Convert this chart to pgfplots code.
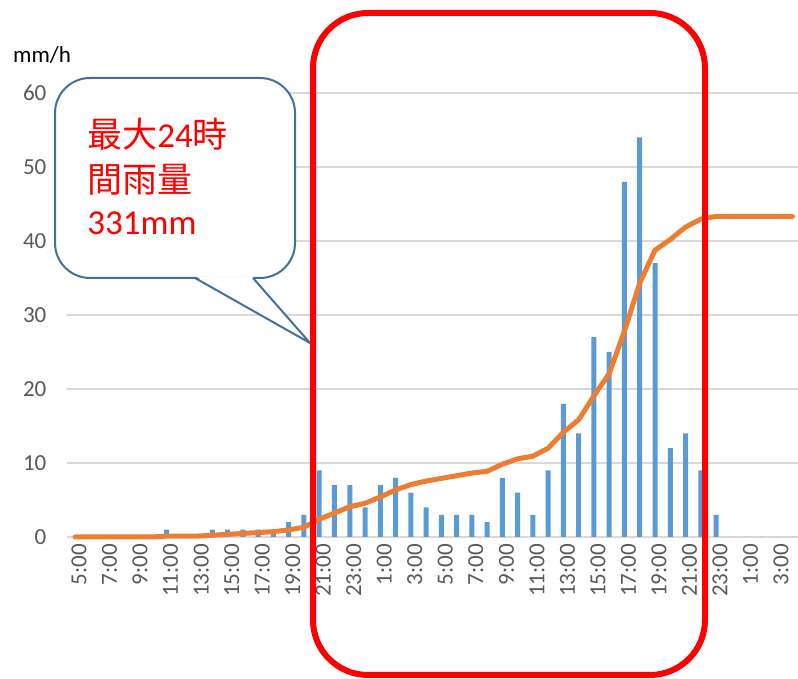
\documentclass[border=0pt]{standalone}
\usepackage{pgfplots}
\pgfplotsset{compat=1.18}
\usepackage{pgfplotstable}
\usepackage{fontspec}
\setmainfont{Carlito}
\newfontfamily\cjk{Noto Sans CJK JP}
\definecolor{barblue}{HTML}{5B9BD5}
\definecolor{lineorange}{HTML}{ED7D31}
\definecolor{gridgray}{HTML}{D9D9D9}
\definecolor{labelgray}{HTML}{595959}
\definecolor{calloutblue}{HTML}{41719C}
\definecolor{boxred}{HTML}{FF0000}

% i  rain (mm/h)  cumulative (mm)
\pgfplotstableread{
i rain cum
0 0 0
1 0 0
2 0 0
3 0 0
4 0 0
5 0 0
6 1 1
7 0 1
8 0 1
9 1 2
10 1 3
11 1 4
12 1 5
13 1 6
14 2 8
15 3 11
16 9 20
17 7 27
18 7 34
19 4 38
20 7 45
21 8 53
22 6 59
23 4 63
24 3 66
25 3 69
26 3 72
27 2 74
28 8 82
29 6 88
30 3 91
31 9 100
32 18 118
33 14 132
34 27 159
35 25 184
36 48 232
37 54 286
38 37 323
39 12 335
40 14 349
41 9 358
42 3 361
43 0 361
44 0 361
45 0 361
46 0 361
47 0 361
}\raindata

\begin{document}
\begin{tikzpicture}
\useasboundingbox (0,0) rectangle (399pt,339.5pt);
\begin{axis}[
  at={(33.7pt,71pt)}, anchor=south west,
  scale only axis, width=366.3pt, height=222pt,
  xmin=-0.5, xmax=47.5, ymin=0, ymax=60,
  ytick={0,10,...,60},
  xtick={0,2,...,46},
  xticklabels={5:00,7:00,9:00,11:00,13:00,15:00,17:00,19:00,21:00,23:00,1:00,3:00,5:00,7:00,9:00,11:00,13:00,15:00,17:00,19:00,21:00,23:00,1:00,3:00},
  major tick length=0pt,
  axis line style={draw=none},
  ymajorgrids, grid style={gridgray, line width=0.65pt},
  tick label style={font=\fontsize{11.5pt}{12pt}\selectfont, text=labelgray},
  yticklabel style={anchor=east, xshift=-7pt},
  xticklabel style={rotate=90, anchor=east, yshift=-2pt},
  /pgf/number format/assume math mode=true,
  clip=false,
]
\addplot[ybar, bar width=2.5pt, fill=barblue, draw=none] table[x=i, y=rain] {\raindata};
\end{axis}
\begin{axis}[
  at={(33.7pt,71pt)}, anchor=south west,
  scale only axis, width=366.3pt, height=222pt,
  xmin=-0.5, xmax=47.5, ymin=0, ymax=500,
  hide x axis, hide y axis, clip=false,
]
\addplot[lineorange, line width=2.5pt, line join=round, line cap=round, mark=none] table[x=i, y=cum] {\raindata};
\end{axis}
% unit label
\node[anchor=base, font=\fontsize{11.5pt}{12pt}\selectfont] at (21pt,308pt) {mm/h};
% callout
\draw[calloutblue, line width=1pt, fill=white, rounded corners=17.5pt] (27.5pt,200.5pt) rectangle (147.5pt,300.5pt);
\fill[white] (97.9pt,201.3pt) -- (126.1pt,201.3pt) -- (155pt,168pt) -- cycle;
\draw[calloutblue, line width=1pt, line join=miter] (97.5pt,200.5pt) -- (155pt,168pt) -- (126.5pt,200.5pt);
\node[anchor=base west, inner sep=0pt, text=boxred, font=\fontsize{17.5pt}{20pt}\selectfont] at (43.5pt,265.5pt) {{\cjk 最大}24{\cjk 時}};
\node[anchor=base west, inner sep=0pt, text=boxred, font=\fontsize{17.5pt}{20pt}\selectfont] at (43.5pt,243pt) {{\cjk 間雨量}};
\node[anchor=base west, inner sep=0pt, text=boxred, font=\fontsize{17.5pt}{20pt}\selectfont] at (43.5pt,222pt) {331mm};
% red frame
\draw[boxred, line width=3pt, rounded corners=27.5pt] (156.5pt,2pt) rectangle (352.5pt,333pt);
\end{tikzpicture}
\end{document}
